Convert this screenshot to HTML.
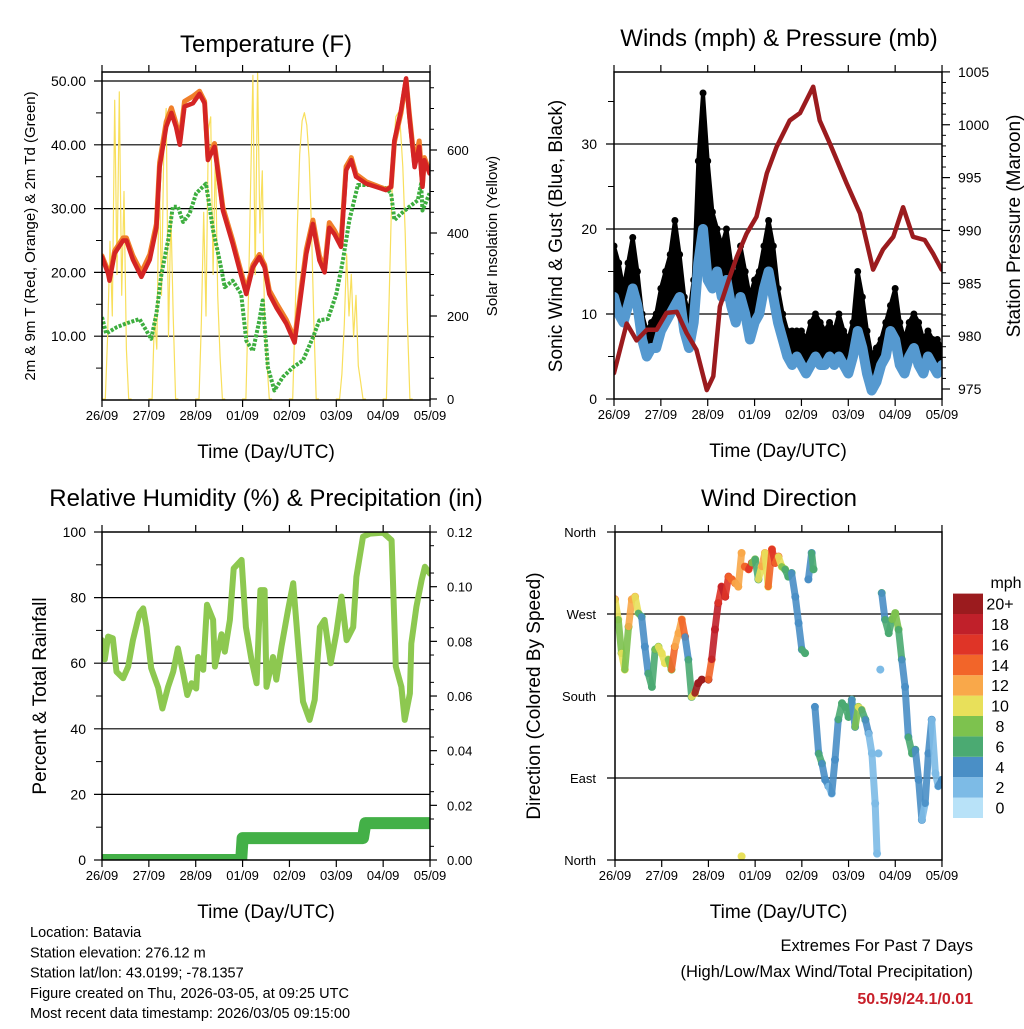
<!DOCTYPE html>
<html><head><meta charset="utf-8"><style>
body{margin:0;background:#fff;}
svg{font-family:"Liberation Sans",sans-serif;}
</style></head><body>
<svg id="svg" xmlns="http://www.w3.org/2000/svg" width="1024" height="1024" viewBox="0 0 1024 1024">
<defs>
<clipPath id="cT"><rect x="102" y="72" width="328" height="328"/></clipPath>
<clipPath id="cW"><rect x="614" y="72" width="328" height="327"/></clipPath>
<clipPath id="cR"><rect x="102" y="532" width="328" height="328"/></clipPath>
<clipPath id="cD"><rect x="615" y="532" width="327" height="328"/></clipPath>
</defs>
</svg>
<script>
// ---------- Temperature data ----------
const tempT=[0,.13,.16,.27,.45,.52,.66,.84,1.02,1.16,1.23,1.37,1.48,1.58,1.66,1.76,1.94,2.08,2.19,2.26,2.4,2.58,2.79,2.94,3.08,3.22,3.36,3.47,3.57,3.72,3.93,4.11,4.21,4.36,4.5,4.64,4.75,4.85,4.96,5.1,5.21,5.32,5.42,5.64,5.85,6.06,6.17,6.24,6.38,6.49,6.56,6.67,6.77,6.84,6.88,6.99];
const temp2m=[22.4,19.8,18.7,23,25,25,22,19.3,22,27,36.5,42.8,45,42.8,40,46,46.5,48,46.5,37.6,39.7,29.7,24.5,20.3,16.6,20.8,22.4,20.8,16.6,14.5,12,9,14.5,22.9,27.6,21.9,20,27,26,24,36,37.6,35,33.9,33.4,32.9,33.4,40.7,45.4,50.4,44.4,36.5,39.7,33.4,37.6,35.5];
const temp9m=[22.6,20.2,19.2,23.4,25.4,25.4,22.6,20.0,22.8,27.6,37.2,43.6,45.8,43.4,40.6,46.8,47.6,48.4,46.8,38.0,40.2,30.2,25.0,20.8,17.2,21.2,22.8,21.2,17.2,15.2,12.6,9.6,15.2,23.6,28.2,22.6,20.6,27.8,26.6,24.6,36.6,38.0,35.4,34.2,33.6,33.0,33.4,40.4,45.0,50.2,44.8,37.0,40.6,33.8,38.0,35.8];
const dewT=[0,.09,.31,.52,.8,1.05,1.16,1.27,1.41,1.51,1.62,1.73,1.87,2.01,2.22,2.37,2.51,2.62,2.79,2.97,3.08,3.22,3.36,3.43,3.54,3.68,3.86,4.07,4.29,4.5,4.64,4.82,5.0,5.14,5.28,5.46,5.71,6.06,6.17,6.24,6.38,6.56,6.74,6.81,6.84,6.99];
const dewV=[13,10.4,11.4,12,12.7,9.6,13.5,19.8,25,30.3,30.3,27.9,29.2,32.4,33.9,26.6,21.9,17.7,18.7,16.6,9.3,7.7,12.5,15.6,5.1,1.5,3.6,5.1,6.2,9.8,12.5,12.7,16.6,21.9,28.2,33.7,33.7,33.2,32.4,28.2,29.2,30.3,31.3,33.9,29.7,32.4];
const solarOffsets=[0,0.07,0.12,0.17,0.22,0.27,0.32,0.37,0.42,0.47,0.52,0.57,0.62];
const solarV=[
[0,0,150,380,200,720,300,740,250,500,120,0,0],
[0,0,200,120,560,250,620,700,150,450,200,0,0],
[0,0,180,450,200,650,680,300,600,250,100,0,0],
[0,0,220,500,780,300,790,400,550,180,90,0,0],
[0,0,200,420,590,670,690,660,580,410,190,0,0],
[0,0,60,180,350,200,300,150,250,80,40,0,0],
[0,0,210,430,600,680,690,650,560,400,180,0,0]];
const tempTicks=["10.00","20.00","30.00","40.00","50.00"];
const solarTicks=["0","200","400","600"];
const dayLabels=["26/09","27/09","28/09","01/09","02/09","03/09","04/09","05/09"];
// ---------- Wind data ----------
const windStep=0.1;
const windMean=[12,10,9,11,13,11,7,5,6,6,8,9,10,11,12,8,6,9,16,20,14,13,15,12,14,11,9,12,10,7,9,10,13,15,12,9,7,5,4,5,4,3,4,5,4,4,5,4,5,4,3,5,8,6,3,1,2,4,5,8,7,4,3,5,6,4,3,5,4,3,4];
const windGust=[18,16,13,16,19,15,10,8,9,10,13,15,17,21,17,12,10,14,28,36,28,22,20,18,20,16,14,18,15,12,14,15,18,21,18,13,10,8,8,8,8,7,9,10,9,8,9,8,10,8,7,9,15,12,8,5,6,7,9,11,13,9,7,9,10,9,7,8,7,7,6];
const presT=[0,.27,.48,.7,.91,1.12,1.34,1.55,1.76,1.98,2.12,2.26,2.47,2.62,2.83,3.04,3.26,3.47,3.75,3.97,4.25,4.39,4.61,4.96,5.25,5.53,5.74,5.96,6.17,6.38,6.63,6.81,6.99];
const presV=[976.5,981.2,979.6,980.6,980.6,982.2,982.3,980.3,978.7,974.9,976.2,982.8,985.6,987.5,989.7,991.3,995.4,997.9,1000.4,1001.1,1003.6,1000.4,998.2,994.5,991.6,986.3,988.2,989.4,992.2,989.4,989.1,987.8,986.3];
const windTicks=["0","10","20","30"];
const presTicks=["975","980","985","990","995","1000","1005"];
// ---------- RH data ----------
const rhT=[0,.06,.13,.23,.31,.45,.56,.66,.8,.88,.95,1.05,1.2,1.29,1.41,1.52,1.62,1.73,1.82,1.91,2.01,2.05,2.16,2.24,2.37,2.41,2.55,2.62,2.73,2.81,2.98,3.07,3.19,3.3,3.38,3.47,3.51,3.65,3.72,3.83,3.97,4.08,4.19,4.29,4.43,4.54,4.65,4.75,4.88,5.0,5.11,5.22,5.36,5.43,5.57,5.72,6.0,6.18,6.27,6.39,6.46,6.57,6.6,6.71,6.82,6.89,7.0];
const rhV=[67,61.2,68.1,67.6,57.4,55.4,59,67,75.2,76.7,71,58.5,52.5,46.2,52.8,57.4,64.5,57,50.3,53.9,52.3,61.9,58,77.8,73.2,59,68.8,63.5,73.2,88.9,91.5,71,61,53.9,82.3,82.3,52.8,61.9,55,65.1,76.2,84.4,65.1,48.3,42.7,48.8,71,73.2,60,69.1,80.3,67,71,86.3,98.6,99.5,99.8,97.5,59,52.8,42.7,50.8,66,77.2,85.3,89.4,87.3];
const precipT=[0,2.97,3.0,5.57,5.62,7.0];
const precipV=[0,0,0.008,0.008,0.0135,0.0135];
const rhTicks=["0","20","40","60","80","100"];
const precipTicks=["0.00","0.02","0.04","0.06","0.08","0.10","0.12"];
// ---------- Direction data ----------
const dirT=[0,.07,.14,.21,.29,.36,.43,.5,.57,.64,.71,.79,.86,.93,1.0,1.07,1.14,1.21,1.28,1.36,1.43,1.5,1.57,1.64,1.71,1.78,1.86,2.0,2.07,2.14,2.21,2.28,2.36,2.43,2.5,2.57,2.64,2.71,2.71,2.78,2.86,2.93,3.0,3.07,3.14,3.21,3.28,3.36,3.43,3.5,3.57,3.64,3.71,3.78,3.86,3.93,4.0,4.07,4.14,4.21,4.25,4.28,4.36,4.43,4.5,4.57,4.64,4.71,4.78,4.86,4.93,5.0,5.07,5.14,5.21,5.28,5.36,5.43,5.5,5.57,5.61,5.64,5.68,5.71,5.78,5.86,5.93,6.0,6.07,6.14,6.21,6.28,6.36,6.43,6.5,6.57,6.64,6.71,6.78,6.86,6.92,7.0];
const dirV=[286,264,227,209,256,286,289,271,267,234,205,190,231,234,227,216,220,209,234,249,264,245,220,179,183,194,198,198,220,253,282,300,289,311,308,304,300,337,4,322,319,326,330,308,322,337,300,341,326,333,322,319,311,315,289,260,231,227,308,337,319,168,117,106,88,81,73,110,154,172,168,157,176,146,168,165,154,139,117,62,7,117,209,293,264,249,264,271,253,220,190,135,117,121,88,44,62,117,154,95,81,88];
const dirS=[14,10,8,10,8,12,13,10,6,4,5,6,6,8,10,10,11,8,14,13,12,14,5,7,10,20,20,20,14,18,18,17,18,16,15,14,12,12,11,14,15,16,8,6,10,12,10,14,16,15,10,8,6,6,4,4,5,6,4,4,6,4,5,6,4,4,3,4,5,6,7,6,6,5,9,11,7,4,2,2,3,3,3,6,5,6,7,8,8,7,4,4,6,7,4,5,3,4,5,2,3,4];
const dirTicks=["North","East","South","West","North"];
const cbLabels=["0","2","4","6","8","10","12","14","16","18","20+"];
const cbColors=["#B8E2F8","#7DBBE6","#4A8FC6","#4BAA72","#7DC24E","#E8E05A","#F9A84A","#F26529","#DF3427","#C0202A","#9B1B1E"];

const NS="http://www.w3.org/2000/svg";
const svg=document.getElementById('svg');
function mk(tag,attrs,parent){const e=document.createElementNS(NS,tag);for(const k in attrs)e.setAttribute(k,attrs[k]);(parent||svg).appendChild(e);return e;}
function grp(name,clip){const g=mk('g',clip?{'clip-path':'url(#'+clip+')'}:{});return g;}
function txt(s,x,y,size,anchor,parent,name,extra){const e=mk('text',Object.assign({x:x,y:y,'font-size':size,'text-anchor':anchor||'start',fill:'#000'},extra||{}),parent);e.textContent=s;return e;}
function ln(x1,y1,x2,y2,w,parent,c){return mk('line',{x1:x1,y1:y1,x2:x2,y2:y2,stroke:c||'#000','stroke-width':w},parent);}
function poly(xs,ys,parent,attrs){let d='';for(let i=0;i<xs.length;i++)d+=(i?'L':'M')+xs[i].toFixed(1)+' '+ys[i].toFixed(1);return mk('path',Object.assign({d:d,fill:'none','stroke-linejoin':'round','stroke-linecap':'round'},attrs),parent);}
function spdColor(s){let i=Math.floor(s/2);if(i>10)i=10;if(i<0)i=0;return cbColors[i];}

function frame(name,x0,y0,x1,y1,dayX){
  const g=grp(name+'-frame');
  mk('rect',{x:x0,y:y0,width:x1-x0,height:y1-y0,fill:'none',stroke:'#000','stroke-width':1.5},g);
  for(let d=0;d<8;d++){const x=dayX(d);ln(x,y0,x,y0-7,1.2,g);ln(x,y1,x,y1+7,1.2,g);
    txt(dayLabels[d],x,y1+20,13,'middle',g,'x-tick-label');}
  txt('Time (Day/UTC)',(x0+x1)/2,y1+58,19,'middle',g,'x-axis-title');
  return g;
}

// ---------- Panel 1: Temperature ----------
const xT=t=>102+t*46.86, yT=v=>400-v*6.38, ySol=v=>399-v*0.415;
{
 const gg=grp('temperature-grid');
 for(let i=0;i<tempTicks.length;i++){const y=yT(parseFloat(tempTicks[i]));ln(94,y,430,y,1.2,gg);txt(tempTicks[i],86,y+5,14,'end',gg,'y-tick-label');}
 for(let v=5;v<=50;v+=10){ln(96,yT(v),102,yT(v),1,gg);}
 for(let i=0;i<solarTicks.length;i++){const v=parseFloat(solarTicks[i]);const y=ySol(v);ln(430,y,437,y,1.2,gg);txt(solarTicks[i],447,y+5,13,'start',gg,'y2-tick-label');}
 for(let v=50;v<=750;v+=50){if(v%200)ln(430,ySol(v),434,ySol(v),1,gg);}
 const gs=grp('solar-insolation-line','cT');
 for(let d=0;d<7;d++){const xs=[],ys=[];for(let k=0;k<solarOffsets.length;k++){xs.push(xT(d+solarOffsets[k]));ys.push(ySol(solarV[d][k]));}
   poly(xs,ys,gs,{stroke:'#F8DF5C','stroke-width':1.2});}
 const gd=grp('dewpoint-2m-line','cT');
 poly(dewT.map(xT),dewV.map(yT),gd,{stroke:'#3DAE3F','stroke-width':4,'stroke-dasharray':'3 1.5','stroke-linecap':'butt'});
 const go=grp('temp-9m-line','cT');
 poly(tempT.map(xT),temp9m.map(yT),go,{stroke:'#F07F2A','stroke-width':5});
 const gr=grp('temp-2m-line','cT');
 poly(tempT.map(xT),temp2m.map(yT),gr,{stroke:'#D42424','stroke-width':4.5});
 frame('temperature',102,72,430,400,d=>xT(d));
 txt('Temperature (F)',266,52,24,'middle',svg,'temperature-title');
 txt('2m & 9m T (Red, Orange) & 2m Td (Green)',0,0,15,'middle',svg,'temperature-y-axis-title',{transform:'translate(35,236) rotate(-90)'});
 txt('Solar Insolation (Yellow)',0,0,15,'middle',svg,'solar-y-axis-title',{transform:'translate(497,236) rotate(-90)'});
}

// ---------- Panel 2: Winds ----------
const xW=t=>614+t*46.86, yW=v=>399-v*8.5, yP=p=>389-(p-975)*10.57;
{
 const gg=grp('winds-grid');
 for(let i=0;i<windTicks.length;i++){const v=parseFloat(windTicks[i]);const y=yW(v);if(v>0)ln(606,y,942,y,1.2,gg);else ln(606,y,614,y,1.2,gg);txt(windTicks[i],597,y+5,14,'end',gg,'y-tick-label');}
 for(let v=5;v<=35;v+=10){ln(608,yW(v),614,yW(v),1,gg);}
 for(let i=0;i<presTicks.length;i++){const y=yP(parseFloat(presTicks[i]));ln(942,y,950,y,1.2,gg);txt(presTicks[i],958,y+5,14,'start',gg,'y2-tick-label');}
 for(let p=976;p<1005;p++){if(p%5)ln(942,yP(p),946,yP(p),1,gg);}
 const gk=grp('gust-points','cW');
 // black gust envelope between mean and gust
 let d='';
 for(let i=0;i<windGust.length;i++){d+=(i?'L':'M')+xW(i*windStep).toFixed(1)+' '+yW(windGust[i]).toFixed(1);}
 for(let i=windMean.length-1;i>=0;i--){d+='L'+xW(i*windStep).toFixed(1)+' '+yW(windMean[i]).toFixed(1);}
 mk('path',{d:d+'Z',fill:'#000',stroke:'#000','stroke-width':4,'stroke-linejoin':'round'},gk);
 for(let i=0;i<windGust.length;i++){
   const c=mk('circle',{cx:xW(i*windStep),cy:yW(windGust[i]),r:3.5,fill:'#000'},gk);
   
   
 }
 const gb=grp('sonic-wind-line','cW');
 poly(windMean.map((v,i)=>xW(i*windStep)),windMean.map(yW),gb,{stroke:'#5599D0','stroke-width':10});
 const gp=grp('station-pressure-line','cW');
 poly(presT.map(xW),presV.map(yP),gp,{stroke:'#9B1B1E','stroke-width':4.5});
 frame('winds',614,72,942,399,d=>xW(d));
 txt('Winds (mph) & Pressure (mb)',779,46,24,'middle',svg,'winds-title');
 txt('Sonic Wind & Gust (Blue, Black)',0,0,19,'middle',svg,'winds-y-axis-title',{transform:'translate(562,236) rotate(-90)'});
 txt('Station Pressure (Maroon)',0,0,19,'middle',svg,'pressure-y-axis-title',{transform:'translate(1020,226) rotate(-90)'});
}

// ---------- Panel 3: RH ----------
const yR=v=>860-v*3.28, yPr=v=>860-v*2733;
{
 const gg=grp('rh-grid');
 for(let i=0;i<rhTicks.length;i++){const v=parseFloat(rhTicks[i]);const y=yR(v);if(v>0&&v<100)ln(94,y,430,y,1.2,gg);else ln(94,y,102,y,1.2,gg);txt(rhTicks[i],86,y+5,14,'end',gg,'y-tick-label');}
 for(let v=10;v<=90;v+=20){ln(96,yR(v),102,yR(v),1,gg);}
 for(let i=0;i<precipTicks.length;i++){const y=yPr(parseFloat(precipTicks[i]));ln(430,y,437,y,1.2,gg);txt(precipTicks[i],447,y+5,13,'start',gg,'y2-tick-label');}
 for(let v=0.005;v<0.12;v+=0.01){ln(430,yPr(v),434,yPr(v),1,gg);}
 const gh=grp('relative-humidity-line','cR');
 poly(rhT.map(xT),rhV.map(yR),gh,{stroke:'#8DC850','stroke-width':6});
 const gq=grp('precipitation-line','cR');
 poly(precipT.map(xT),precipV.map(yPr),gq,{stroke:'#43B047','stroke-width':12});
 frame('rh',102,532,430,860,d=>xT(d));
 txt('Relative Humidity (%) & Precipitation (in)',266,506,24,'middle',svg,'rh-title');
 txt('Percent & Total Rainfall',0,0,19,'middle',svg,'rh-y-axis-title',{transform:'translate(46,696) rotate(-90)'});
}

// ---------- Panel 4: Direction ----------
const xD=t=>615+t*46.71, yD=d=>860-d*0.9111;
{
 const gg=grp('direction-grid');
 for(let i=0;i<dirTicks.length;i++){const y=yD(i*90);if(i>0&&i<4)ln(607,y,942,y,1.2,gg);else ln(607,y,615,y,1.2,gg);txt(dirTicks[i],596,y+5,13,'end',gg,'y-tick-label');}
 const gs=grp('direction-points','cD');
 for(let i=0;i<dirT.length;i++){
   if(i>0&&Math.abs(dirV[i]-dirV[i-1])<70&&dirT[i]-dirT[i-1]<0.11){
     const l=ln(xD(dirT[i-1]),yD(dirV[i-1]),xD(dirT[i]),yD(dirV[i]),7,gs,spdColor(dirS[i]));l.setAttribute('stroke-linecap','round');l.setAttribute('opacity','0.9');}
   const c=mk('circle',{cx:xD(dirT[i]),cy:yD(dirV[i]),r:4,fill:spdColor(dirS[i])},gs);
   
   
 }
 frame('direction',615,532,942,860,d=>xD(d));
 txt('Wind Direction',779,506,24,'middle',svg,'direction-title');
 txt('Direction (Colored By Speed)',0,0,19,'middle',svg,'direction-y-axis-title',{transform:'translate(540,696) rotate(-90)'});
 const gc=grp('speed-colorbar');
 for(let i=0;i<cbColors.length;i++){const y=818-(i+1)*20.4;
   const r=mk('rect',{x:953,y:y,width:30,height:20.4,fill:cbColors[i]},gc);
   
   
   txt(cbLabels[i],1000,y+16,16,'middle',gc,'colorbar-label');}
 txt('mph',1006,588,16,'middle',gc,'colorbar-title');
}

// ---------- Footer ----------
{
 const gf=grp('station-info');
 const lines=["Location: Batavia","Station elevation: 276.12 m","Station lat/lon: 43.0199; -78.1357","Figure created on Thu, 2026-03-05, at 09:25 UTC","Most recent data timestamp: 2026/03/05 09:15:00"];
 for(let i=0;i<lines.length;i++)txt(lines[i],30,937+i*20.3,14.5,'start',gf,'station-info-line');
 const ge=grp('extremes-summary');
 txt('Extremes For Past 7 Days',973,951,16.5,'end',ge,'extremes-title');
 txt('(High/Low/Max Wind/Total Precipitation)',973,977,16.5,'end',ge,'extremes-subtitle');
 txt('50.5/9/24.1/0.01',973,1004,16,'end',ge,'extremes-values',{fill:'#C8202A','font-weight':'bold'});
}
</script>
</body></html>
